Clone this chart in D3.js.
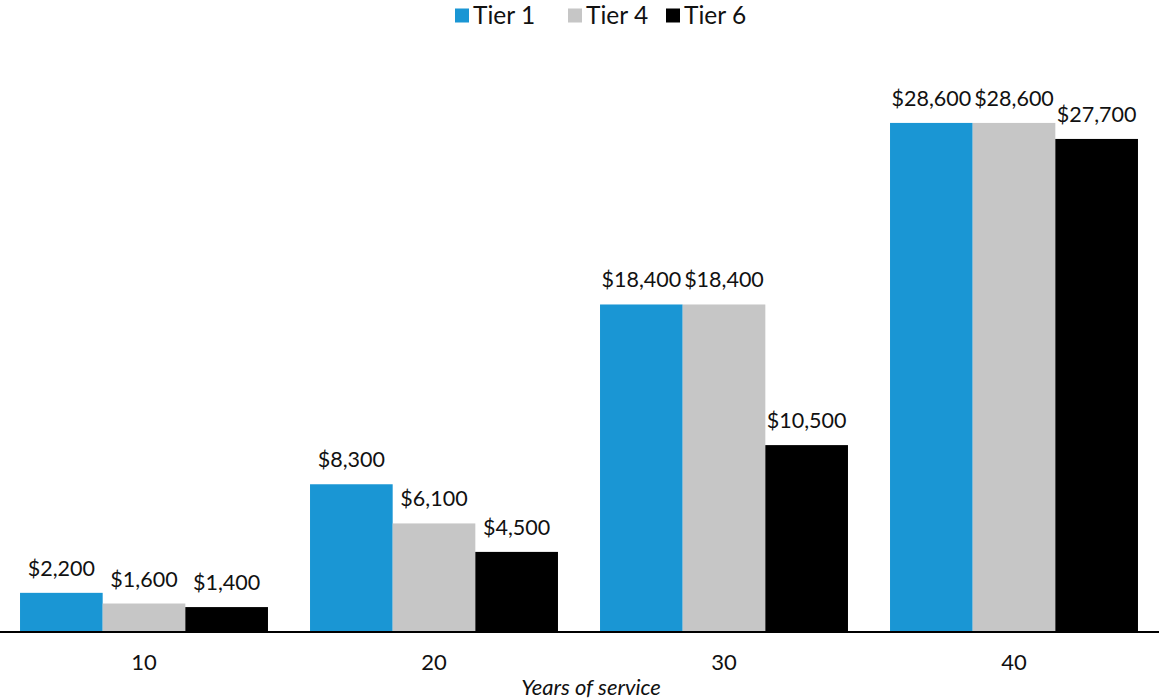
<!DOCTYPE html>
<html>
<head>
<meta charset="utf-8">
<script src="https://cdn.jsdelivr.net/npm/d3@7"></script>
<style>
  html, body { margin: 0; padding: 0; background: #fff; }
  svg { display: block; font-family: Lato, "Open Sans", sans-serif; }
</style>
</head>
<body>
<svg id="chart" width="1159" height="700"></svg>
<script>
// Retirement benefit by years of service, by tier
const categories = ["10", "20", "30", "40"];
const seriesNames = ["Tier 1", "Tier 4", "Tier 6"];
const tier1 = [2200, 8300, 18400, 28600];
const tier4 = [1600, 6100, 18400, 28600];
const tier6 = [1400, 4500, 10500, 27700];
const seriesColors = ["#1a96d4", "#c6c6c6", "#000000"];
const axisTitle = "Years of service";

const seriesValues = [tier1, tier4, tier6];

const svg = d3.select("#chart");
const W = 1159;
const baseY = 632;

const x = d3.scaleBand()
  .domain(categories)
  .range([-1, 1159])
  .paddingInner(0.145)
  .paddingOuter(0.0725);

const xInner = d3.scaleBand()
  .domain(seriesNames)
  .range([0, x.bandwidth()]);

const y = d3.scaleLinear()
  .domain([0, 35000])
  .range([baseY, 9]);

const fmt = v => "$" + d3.format(",")(v);

const rows = categories.map((c, i) => ({
  cat: c,
  vals: seriesNames.map((s, j) => ({ series: s, idx: j, value: seriesValues[j][i] }))
}));

const groups = svg.append("g").selectAll("g")
  .data(rows)
  .join("g")
  .attr("transform", d => `translate(${x(d.cat)},0)`);

groups.selectAll("rect")
  .data(d => d.vals)
  .join("rect")
  .attr("x", d => xInner(d.series))
  .attr("y", d => y(d.value))
  .attr("width", xInner.bandwidth())
  .attr("height", d => y(0) - y(d.value))
  .attr("fill", d => seriesColors[d.idx]);

groups.selectAll("text.val")
  .data(d => d.vals)
  .join("text")
  .attr("class", "val")
  .attr("x", d => xInner(d.series) + xInner.bandwidth() / 2)
  .attr("y", d => y(d.value) - 17)
  .attr("text-anchor", "middle")
  .attr("font-size", 21.5)
  .attr("fill", "#111")
  .text(d => fmt(d.value));

// Category axis
const xAxis = d3.axisBottom(x).tickSize(0).tickPadding(0).tickSizeOuter(0);
const axisG = svg.append("g")
  .attr("transform", `translate(0,${baseY})`)
  .call(xAxis);
axisG.select(".domain").remove();
axisG.selectAll("text")
  .attr("font-family", "Lato, sans-serif")
  .attr("font-size", 22)
  .attr("fill", "#111")
  .attr("dy", null)
  .attr("y", 38);

svg.append("line")
  .attr("x1", 0).attr("x2", W)
  .attr("y1", baseY).attr("y2", baseY)
  .attr("stroke", "#000")
  .attr("stroke-width", 2);

svg.append("text")
  .attr("x", 591)
  .attr("y", 695)
  .attr("text-anchor", "middle")
  .attr("font-size", 22)
  .attr("font-style", "italic")
  .attr("fill", "#111")
  .text(axisTitle);

// Legend
const legendX = [455, 568, 666];
const legend = svg.append("g").selectAll("g")
  .data(seriesNames)
  .join("g")
  .attr("transform", (d, i) => `translate(${legendX[i]},0)`);
legend.append("rect")
  .attr("x", 0).attr("y", 8.5)
  .attr("width", 14).attr("height", 14)
  .attr("fill", (d, i) => seriesColors[i]);
legend.append("text")
  .attr("x", 18).attr("y", 24)
  .attr("font-size", 24.5)
  .attr("fill", "#111")
  .text(d => d);
</script>
</body>
</html>
